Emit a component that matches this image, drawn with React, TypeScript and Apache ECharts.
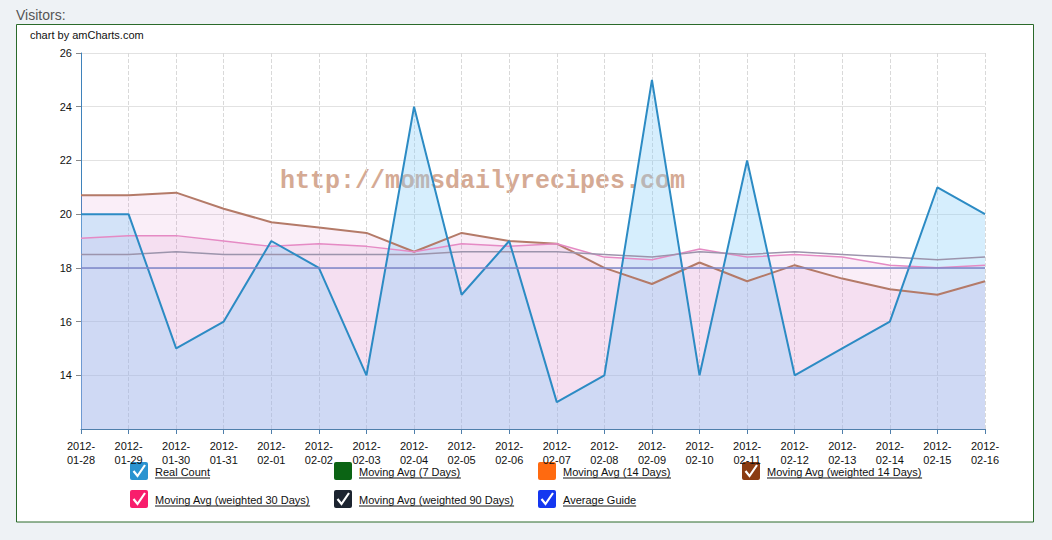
import React, { useEffect, useRef } from 'react';
import * as echarts from 'echarts';

const dates = [
  '2012-01-28', '2012-01-29', '2012-01-30', '2012-01-31', '2012-02-01',
  '2012-02-02', '2012-02-03', '2012-02-04', '2012-02-05', '2012-02-06',
  '2012-02-07', '2012-02-08', '2012-02-09', '2012-02-10', '2012-02-11',
  '2012-02-12', '2012-02-13', '2012-02-14', '2012-02-15', '2012-02-16',
];
const realCount = [20, 20, 15, 16, 19, 18, 14, 24, 17, 19, 13, 14, 25, 14, 22, 14, 15, 16, 21, 20];
const weighted14 = [20.7, 20.7, 20.8, 20.2, 19.7, 19.5, 19.3, 18.6, 19.3, 19.0, 18.9, 18.0, 17.4, 18.2, 17.5, 18.1, 17.6, 17.2, 17.0, 17.5];
const weighted30 = [19.1, 19.2, 19.2, 19.0, 18.8, 18.9, 18.8, 18.6, 18.9, 18.8, 18.9, 18.4, 18.3, 18.7, 18.4, 18.5, 18.4, 18.1, 18.0, 18.1];
const weighted90 = [18.5, 18.5, 18.6, 18.5, 18.5, 18.5, 18.5, 18.5, 18.6, 18.6, 18.6, 18.5, 18.4, 18.6, 18.5, 18.6, 18.5, 18.4, 18.3, 18.4];
const averageGuide = 18;
const yMin = 12;
const yMax = 26;
const yStep = 2;

const legendNames = [
  'Real Count', 'Moving Avg (7 Days)', 'Moving Avg (14 Days)', 'Moving Avg (weighted 14 Days)',
  'Moving Avg (weighted 30 Days)', 'Moving Avg (weighted 90 Days)', 'Average Guide',
];
const legendColors = ['#2a93d0', '#0b6414', '#ff6a10', '#8b3c12', '#f81d6c', '#1c2430', '#1437f0'];
const legendChecked = [true, false, false, true, true, true, true];

const FONT = "Arial, 'Liberation Sans', Helvetica, sans-serif";

export default function App() {
  const ref = useRef<HTMLDivElement>(null);

  useEffect(() => {
    if (!ref.current) return;
    const chart = echarts.init(ref.current, null, { renderer: 'svg' });

    const canvas = document.createElement('canvas');
    const ctx = canvas.getContext('2d') as CanvasRenderingContext2D;
    ctx.font = `11px ${FONT}`;

    const legend: any[] = [];
    legendNames.forEach((name, i) => {
      const col = i % 4;
      const row = Math.floor(i / 4);
      const x = 130 + col * 204;
      const y = 462 + row * 28;
      legend.push({
        type: 'rect',
        shape: { x, y, width: 18, height: 18, r: 2 },
        style: { fill: legendColors[i] },
      });
      if (legendChecked[i]) {
        legend.push({
          type: 'polyline',
          shape: { points: [[x + 3.5, y + 9], [x + 7.5, y + 14], [x + 15, y + 3]] },
          style: { stroke: '#fff', lineWidth: 2.2, fill: null },
        });
      }
      legend.push({
        type: 'text',
        x: x + 25,
        y: y + 9.5,
        style: {
          text: name, font: `11px ${FONT}`, fill: '#111',
          align: 'left', verticalAlign: 'middle', textAlign: 'left', textVerticalAlign: 'middle',
        },
      });
      const w = ctx.measureText(name).width;
      legend.push({
        type: 'line',
        shape: { x1: x + 25, y1: y + 16, x2: x + 25 + w, y2: y + 16 },
        style: { stroke: '#111', lineWidth: 1 },
      });
    });

    chart.setOption({
      animation: false,
      backgroundColor: '#eef2f5',
      graphic: [
        {
          type: 'rect', z: -10,
          shape: { x: 16.5, y: 24.5, width: 1017, height: 497.5 },
          style: { fill: '#ffffff', stroke: '#2a6a2a', lineWidth: 1 },
        },
        {
          type: 'text', x: 16, y: 15,
          style: {
            text: 'Visitors:', font: `14px ${FONT}`, fill: '#555',
            align: 'left', verticalAlign: 'middle', textAlign: 'left', textVerticalAlign: 'middle',
          },
        },
        {
          type: 'text', x: 30, y: 35,
          style: {
            text: 'chart by amCharts.com', font: `11px ${FONT}`, fill: '#111',
            align: 'left', verticalAlign: 'middle', textAlign: 'left', textVerticalAlign: 'middle',
          },
        },
        {
          type: 'text', x: 280, y: 181,
          style: {
            text: 'http://momsdailyrecipes.com',
            font: "bold 25px 'Liberation Mono', 'DejaVu Sans Mono', monospace",
            fill: '#d5aa94',
            align: 'left', verticalAlign: 'middle', textAlign: 'left', textVerticalAlign: 'middle',
          },
        },
        ...legend,
      ],
      grid: { left: 81, right: 67, top: 53, bottom: 111, containLabel: false },
      xAxis: {
        type: 'category',
        boundaryGap: false,
        data: dates,
        axisLine: { lineStyle: { color: '#4f7fab', width: 1 } },
        axisTick: { show: true, length: 5, lineStyle: { color: '#4f7fab' } },
        axisLabel: {
          interval: 0,
          color: '#111',
          fontSize: 11,
          fontFamily: FONT,
          lineHeight: 14,
          margin: 10,
          formatter: (v: string) => v.replace('-', '-\n'),
        },
        splitLine: { show: true, lineStyle: { color: '#d9d9d9', type: 'dashed', width: 1 } },
      },
      yAxis: {
        type: 'value',
        min: yMin,
        max: yMax,
        interval: yStep,
        axisLine: { show: true, lineStyle: { color: '#3f82bb', width: 1 } },
        axisTick: { show: true, length: 5, lineStyle: { color: '#888' } },
        axisLabel: { showMinLabel: false, color: '#111', fontSize: 11, fontFamily: FONT, margin: 9 },
        splitLine: { show: true, lineStyle: { color: '#e2e2e2', width: 1 } },
      },
      series: [
        {
          name: 'Moving Avg (weighted 14 Days)',
          type: 'line',
          data: weighted14,
          showSymbol: false,
          lineStyle: { color: '#b47a68', width: 2 },
          itemStyle: { color: '#b47a68' },
          areaStyle: { color: '#d873c6', opacity: 0.12 },
          z: 2,
        },
        {
          name: 'Moving Avg (weighted 30 Days)',
          type: 'line',
          data: weighted30,
          showSymbol: false,
          lineStyle: { color: '#e58ac4', width: 1.5 },
          itemStyle: { color: '#e58ac4' },
          areaStyle: { color: '#d873c6', opacity: 0.12 },
          z: 2,
        },
        {
          name: 'Real Count area',
          type: 'line',
          data: realCount,
          showSymbol: false,
          lineStyle: { width: 0, opacity: 0 },
          areaStyle: { color: 'rgb(135,206,250)', opacity: 0.34 },
          silent: true,
          z: 2,
        },
        {
          name: 'Moving Avg (weighted 90 Days)',
          type: 'line',
          data: weighted90,
          showSymbol: false,
          lineStyle: { color: '#9c94ac', width: 1.5 },
          itemStyle: { color: '#9c94ac' },
          z: 3,
        },
        {
          name: 'Real Count',
          type: 'line',
          data: realCount,
          showSymbol: false,
          lineStyle: { color: '#2c8bc4', width: 2 },
          itemStyle: { color: '#2c8bc4' },
          z: 4,
          markLine: {
            silent: true,
            symbol: 'none',
            label: { show: false },
            lineStyle: { color: '#7c86c9', width: 1.5, type: 'solid' },
            data: [{ yAxis: averageGuide }],
          },
        },
      ],
    });

    return () => chart.dispose();
  }, []);

  return (
    <div
      ref={ref}
      style={{ position: 'absolute', left: 0, top: 0, width: 1052, height: 540 }}
    />
  );
}
